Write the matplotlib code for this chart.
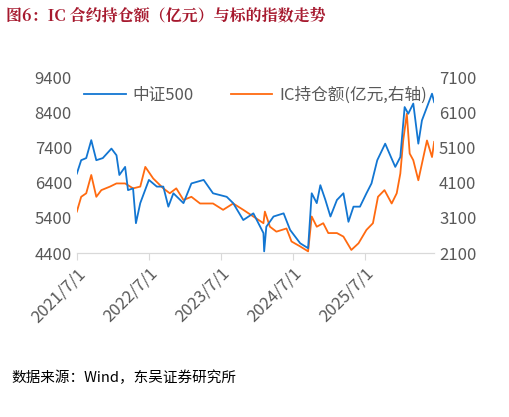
import matplotlib.pyplot as plt

plt.rcParams['font.family'] = ['Noto Sans CJK SC', 'DejaVu Sans']

# years since 2021/7/1
t_csi = [0.00, 0.06, 0.13, 0.20, 0.27, 0.36, 0.48, 0.55, 0.59, 0.67, 0.71, 0.78, 0.82, 0.88,
         1.00, 1.11, 1.20, 1.27, 1.34, 1.48, 1.59, 1.76, 1.89, 2.08, 2.17, 2.31, 2.45, 2.59,
         2.60, 2.63, 2.73, 2.87, 2.96, 3.10, 3.21, 3.26, 3.33, 3.38, 3.45, 3.52, 3.61, 3.70,
         3.77, 3.84, 3.93, 4.02, 4.09, 4.17, 4.28, 4.36, 4.42, 4.49, 4.55, 4.60, 4.67, 4.74,
         4.79, 4.93, 4.96]
csi500 = [6660, 7040, 7100, 7610, 7040, 7100, 7370, 7180, 6620, 6850, 6190, 6240, 5250, 5820,
          6480, 6290, 6290, 5720, 6100, 5820, 6380, 6480, 6100, 6000, 5820, 5340, 5530, 4970,
          4450, 5150, 5440, 5530, 5060, 4680, 4540, 6100, 5820, 6330, 5910, 5440, 5910, 6100,
          5290, 5720, 5720, 6100, 6380, 7040, 7510, 7130, 6850, 7130, 8550, 8360, 8650, 7510,
          8170, 8930, 8690]

t_ic = [0.00, 0.06, 0.13, 0.20, 0.27, 0.34, 0.46, 0.55, 0.67, 0.78, 0.88, 0.95, 1.06, 1.20,
        1.29, 1.38, 1.48, 1.59, 1.71, 1.89, 2.03, 2.17, 2.31, 2.45, 2.59, 2.61, 2.68, 2.77,
        2.91, 2.98, 3.10, 3.21, 3.26, 3.33, 3.42, 3.49, 3.61, 3.70, 3.81, 3.91, 4.02, 4.11,
        4.18, 4.27, 4.37, 4.44, 4.49, 4.53, 4.58, 4.62, 4.67, 4.74, 4.81, 4.86, 4.93, 4.96]
ic_oi = [3280, 3700, 3800, 4320, 3700, 3890, 3990, 4080, 4080, 3940, 3990, 4550, 4220, 3940,
         3800, 3940, 3610, 3700, 3510, 3510, 3330, 3510, 3330, 3140, 2950, 3280, 2850, 2710,
         2800, 2430, 2290, 2150, 3140, 2850, 2950, 2670, 2670, 2570, 2190, 2380, 2760, 2950,
         3700, 3890, 3510, 3800, 4360, 5300, 6060, 4930, 4740, 4170, 4830, 5300, 4830, 5260]

years = [0, 1, 2, 3, 4]
year_labels = ['2021/7/1', '2022/7/1', '2023/7/1', '2024/7/1', '2025/7/1']

fig = plt.figure(figsize=(5.09, 4.17), dpi=100)
ax = fig.add_axes([0.151, 0.393, 0.702, 0.422])
ax2 = ax.twinx()

gray = '#595959'
l1, = ax.plot(t_csi, csi500, color='#1276D2', lw=1.3, label='中证500')
l2, = ax2.plot(t_ic, ic_oi, color='#FF6A10', lw=1.3, label='IC持仓额(亿元,右轴)')
ax.set_zorder(ax2.get_zorder() + 1)
ax.patch.set_visible(False)

ax.set_xlim(0, 4.96)
ax.set_ylim(4400, 9400)
ax.set_yticks(range(4400, 9401, 1000))
ax2.set_ylim(2100, 7100)
ax2.set_yticks(range(2100, 7101, 1000))
ax.set_xticks(years)
ax.set_xticklabels(year_labels, rotation=45, ha='right', rotation_mode='anchor')

for a in (ax, ax2):
    for s in ('top', 'left', 'right'):
        a.spines[s].set_visible(False)
    a.spines['bottom'].set_color('#D9D9D9')
    a.tick_params(axis='both', colors=gray, labelsize=12, length=0)
ax.tick_params(axis='x', length=5, color='#D9D9D9')

ax.legend([l1, l2], [l1.get_label(), l2.get_label()], loc='upper center', ncol=2,
          frameon=False, fontsize=12, labelcolor=gray, bbox_to_anchor=(0.5, 1.03),
          handlelength=2.5, columnspacing=2.2, handletextpad=0.4)

fig.text(0.012, 0.962, '图6：IC 合约持仓额（亿元）与标的指数走势', color='#A6192E',
         fontsize=11.5, fontweight='bold', va='center',
         family=['Noto Serif CJK SC', 'Noto Sans CJK SC', 'DejaVu Sans'])
fig.text(0.022, 0.093, '数据来源：Wind，东吴证券研究所', color='black', fontsize=10.5,
         va='center')

fig.savefig('out.png', dpi=100)
